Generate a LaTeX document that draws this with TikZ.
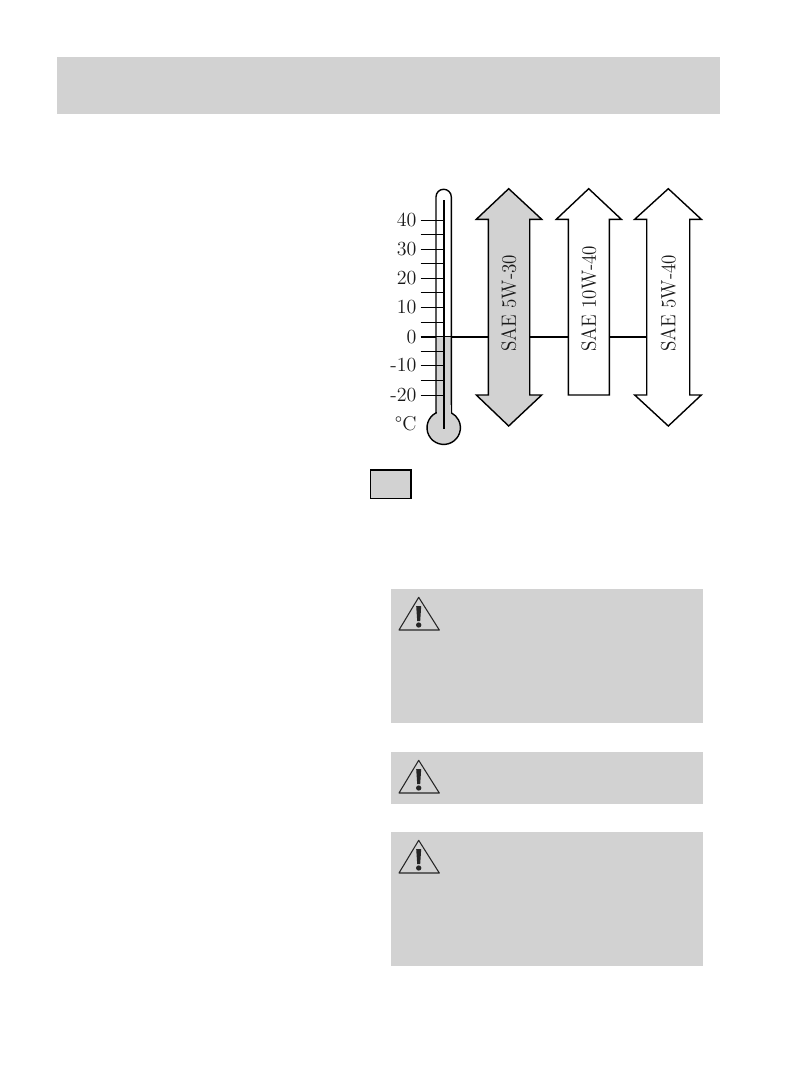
\documentclass[tikz,border=0pt]{standalone}
\usetikzlibrary{positioning}
\definecolor{panelgrey}{HTML}{D2D2D2}
\tikzset{
  panel/.style={fill=panelgrey,draw=none},
  scalelabel/.style={font=\fontsize{14.3}{16}\selectfont,text=black!90,scale=1.05,anchor=east,inner sep=0pt},
  oillabel/.style={font=\fontsize{14.3}{16}\selectfont,text=black!90,rotate=90,xscale=1.0,yscale=1.08,anchor=west,inner sep=0pt},
  tick/.style={black,line width=0.75pt},
  outline/.style={black,line width=1.05pt,line join=miter},
  warnline/.style={black!85,line width=0.8pt,line join=round},
  warnmark/.style={fill=black!85,draw=none}
}
\begin{document}
\begin{tikzpicture}[x=0.75pt,y=-0.75pt]
\path[use as bounding box,fill=white] (0,0) rectangle (799,1083);
% header and warning panels
\draw[panel] (57,57) rectangle (720,114);
\draw[panel] (391,589) rectangle (703,723);
\draw[panel] (391,752) rectangle (703,804);
\draw[panel] (391,832) rectangle (703,966);
% zero line, runs behind the arrows
\draw[black,line width=1.4pt] (420.7,336.7) -- (646.7,336.7);
% thermometer
\draw[fill=panelgrey,draw=none] (436,336.7) rectangle (451.3,420);
\draw[outline] (436,413) -- (436,196.9) arc[start angle=180,end angle=360,radius=7.65] -- (451.3,413);
\draw[outline,fill=panelgrey] (436,412.9) arc[start angle=242.5,end angle=-62.5,radius=16.7] -- cycle;
\draw[panel] (436.5,405) rectangle (450.8,416);
\draw[black,line width=1.4pt] (443.7,200) -- (443.7,429.3);
\draw[tick] (420.7,220.3) -- (443.7,220.3);
\draw[tick] (420.7,234.3) -- (443.7,234.3);
\draw[tick] (420.7,249.3) -- (443.7,249.3);
\draw[tick] (420.7,263.3) -- (443.7,263.3);
\draw[tick] (420.7,278.3) -- (443.7,278.3);
\draw[tick] (420.7,292.3) -- (443.7,292.3);
\draw[tick] (420.7,307.3) -- (443.7,307.3);
\draw[tick] (420.7,322.3) -- (443.7,322.3);
\draw[tick] (420.7,351.3) -- (443.7,351.3);
\draw[tick] (420.7,365.3) -- (443.7,365.3);
\draw[tick] (420.7,380.3) -- (443.7,380.3);
\draw[tick] (420.7,395.3) -- (443.7,395.3);
\node[scalelabel] (t40) at (416.7,220.3) {40};
\node[scalelabel] (t30) at (416.7,249.3) {30};
\node[scalelabel] (t20) at (416.7,278.3) {20};
\node[scalelabel] (t10) at (416.7,307.3) {10};
\node[scalelabel] (t0) at (416.7,336.7) {0};
\node[scalelabel] (tm10) at (416.7,365.3) {-10};
\node[scalelabel] (tm20) at (416.7,395.3) {-20};
\node[scalelabel] (tunit) at (416.7,423.5) {\textdegree C};
% oil grade arrows
\draw[outline,fill=panelgrey] (508.7,188.7) -- (541.7,219.3) -- (529.7,219.3) -- (529.7,395) -- (541.7,395) -- (508.7,426) -- (476.3,395) -- (488.3,395) -- (488.3,219.3) -- (476.3,219.3) -- cycle;
\draw[outline,fill=white] (588.7,188.7) -- (621.3,219.3) -- (609.3,219.3) -- (609.3,395) -- (568.3,395) -- (568.3,219.3) -- (556.3,219.3) -- cycle;
\draw[outline,fill=white] (668.3,188.7) -- (701.3,219.3) -- (689.7,219.3) -- (689.7,395) -- (701.3,395) -- (668.3,426) -- (634.7,395) -- (646.7,395) -- (646.7,219.3) -- (634.7,219.3) -- cycle;
\node[oillabel] (oila) at (508.7,352) {SAE 5W-30};
\node[oillabel] (oilb) at (588.7,352) {SAE 10W-40};
\node[oillabel] (oilc) at (668.3,352) {SAE 5W-40};
% legend swatch
\draw[fill=panelgrey,draw=black,line width=1.2pt] (370.3,469.7) rectangle (410.7,498.3);
% warning signs
\begin{scope}
\draw[warnline] (418.7,597.3) -- (439.3,630) -- (399,630) -- cycle;
\fill[warnmark] (416.2,606) -- (421.2,606) -- (420.2,621) -- (417.2,621) -- cycle;
\fill[warnmark] (418.7,625) circle[radius=2pt];
\end{scope}
\begin{scope}[yshift=-122.25pt]
\draw[warnline] (418.7,597.3) -- (439.3,630) -- (399,630) -- cycle;
\fill[warnmark] (416.2,606) -- (421.2,606) -- (420.2,621) -- (417.2,621) -- cycle;
\fill[warnmark] (418.7,625) circle[radius=2pt];
\end{scope}
\begin{scope}[yshift=-182.25pt]
\draw[warnline] (418.7,597.3) -- (439.3,630) -- (399,630) -- cycle;
\fill[warnmark] (416.2,606) -- (421.2,606) -- (420.2,621) -- (417.2,621) -- cycle;
\fill[warnmark] (418.7,625) circle[radius=2pt];
\end{scope}
\end{tikzpicture}
\end{document}
